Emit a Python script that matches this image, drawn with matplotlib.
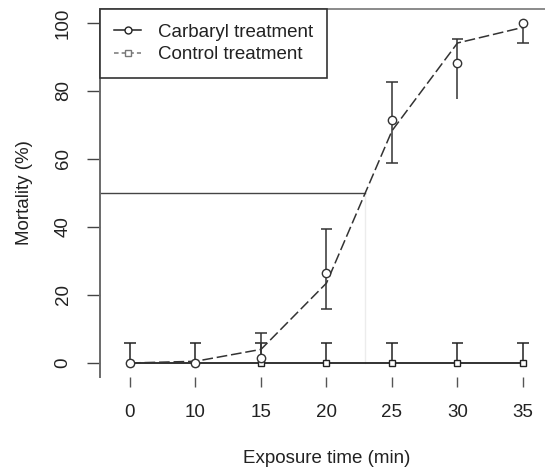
import numpy as np
import matplotlib
matplotlib.use("Agg")
import matplotlib.pyplot as plt
from matplotlib.lines import Line2D

# exposure times (plotted at equal spacing, as in the original)
x_labels = ["0", "10", "15", "20", "25", "30", "35"]

# carbaryl treatment: observed mortality (%) with error bar ends, plus fitted curve
carbaryl_mean = [0, 0, 1.5, 26.5, 71.5, 88.3, 100]
carbaryl_lower = [0, 0, 0, 15.9, 58.7, 77.6, 94.2]
carbaryl_upper = [0, 0, 8.7, 39.4, 82.5, 95.2, 100]
carbaryl_upper_cap = [False, False, True, True, True, True, False]
carbaryl_lower_cap = [False, False, False, True, True, False, True]
carbaryl_fit = [0, 0.5, 4.0, 23.5, 68.3, 94.1, 98.7]

# control treatment
control_mean = [0, 0, 0, 0, 0, 0, 0]
control_upper = [6, 6, 6, 6, 6, 6, 6]

lc_level = 50

plt.rcParams["font.family"] = ["Liberation Sans", "DejaVu Sans"]
plt.rcParams["font.size"] = 13.5

ink = "#222222"
axis_grey = "#6a6a6a"

fig = plt.figure(figsize=(5.45, 4.67), dpi=100)
ax = fig.add_axes([100 / 545, 90 / 467, 445 / 545, 368 / 467])

pos = np.arange(len(x_labels))
ax.set_xlim(-0.458, 6.336)
ax.set_ylim(-4.12, 104.1)

# 50 % reference lines
x50 = np.interp(lc_level, carbaryl_fit, pos)
ax.plot([x50, x50], [0, lc_level], color="#ececec", lw=1.0, zorder=1)
ax.plot([ax.get_xlim()[0], x50], [lc_level, lc_level], color="#444444", lw=1.0, zorder=2)

# error bars
cap = 0.085
for i in pos:
    ax.vlines(i, control_mean[i], control_upper[i], color=ink, lw=1.1, zorder=3)
    ax.hlines(control_upper[i], i - cap, i + cap, color=ink, lw=1.1, zorder=3)
    ax.vlines(i, carbaryl_lower[i], carbaryl_upper[i], color="#333333", lw=1.1, zorder=3)
    if carbaryl_upper_cap[i]:
        ax.hlines(carbaryl_upper[i], i - cap, i + cap, color="#333333", lw=1.1, zorder=3)
    if carbaryl_lower_cap[i]:
        ax.hlines(carbaryl_lower[i], i - cap, i + cap, color="#333333", lw=1.1, zorder=3)

ax.plot(pos, control_mean, color=ink, lw=1.3, marker="s", ms=5, mfc="white",
        mec=ink, mew=1.0, zorder=4)
ax.plot(pos, carbaryl_fit, color="#333333", lw=1.1, ls=(0, (7, 2.5)), zorder=4)
ax.plot(pos, carbaryl_mean, ls="none", marker="o", ms=6, mfc="white",
        mec="#333333", mew=1.0, zorder=5)

# axes styling (R-like)
for side in ["right", "bottom"]:
    ax.spines[side].set_visible(False)
ax.spines["left"].set_color(axis_grey)
ax.spines["left"].set_linewidth(1.4)
ax.spines["top"].set_color("#8a8a8a")
ax.spines["top"].set_linewidth(1.4)

ax.set_xticks(pos)
ax.set_xticklabels(x_labels)
ax.set_yticks([0, 20, 40, 60, 80, 100])
ax.tick_params(axis="x", length=7.2, width=1.0, color="#555555", pad=12,
               labelcolor=ink)
ax.tick_params(axis="y", length=9.4, width=1.0, color="#444444", pad=11,
               labelcolor=ink, labelrotation=90)
for lab in ax.get_yticklabels():
    lab.set_va("center")

ax.set_xlabel("Exposure time (min)", color=ink)
ax.xaxis.label.set_va("center")
ax.xaxis.set_label_coords(0.51, -0.222)
ax.set_ylabel("Mortality (%)", color=ink)
ax.yaxis.label.set_va("center")
ax.yaxis.set_label_coords(-0.17, 0.5)

handles = [
    Line2D([], [], color=ink, lw=1.1, marker="o", ms=5, mfc="white", mec=ink),
    Line2D([], [], color="#777777", lw=1.1, ls=(0, (3, 2)), marker="s", ms=5,
           mfc="white", mec="#777777"),
]
leg = ax.legend(handles, ["Carbaryl treatment", "Control treatment"],
                loc="upper left", bbox_to_anchor=(0, 1), borderaxespad=0,
                fancybox=False, edgecolor="#333333", framealpha=1,
                borderpad=0.77, handlelength=1.4, handletextpad=0.9,
                labelspacing=0.3, numpoints=1, labelcolor=ink)
leg.get_frame().set_linewidth(1.2)

fig.savefig("out.png", dpi=100)
